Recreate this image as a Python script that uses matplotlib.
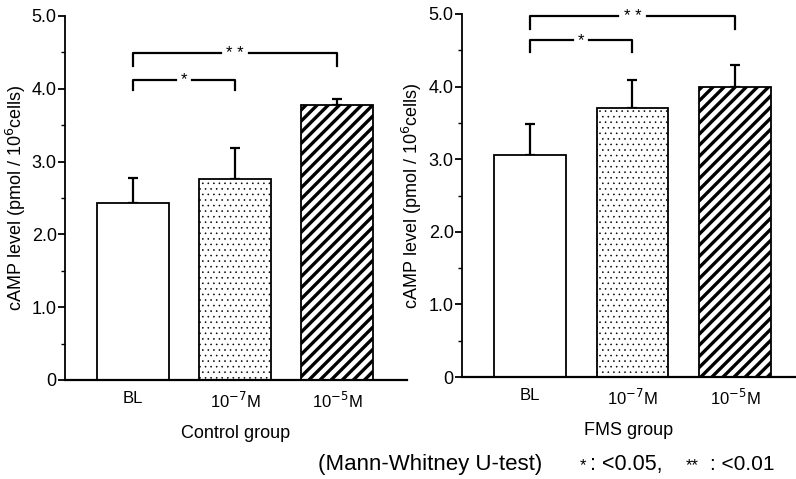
import matplotlib as mpl
import matplotlib.pyplot as plt
from matplotlib.ticker import MultipleLocator, FuncFormatter

plt.rcParams['font.family'] = ['Liberation Sans', 'DejaVu Sans']

# data
conditions = ['BL', '10$^{-7}$M', '10$^{-5}$M']
control_mean = [2.43, 2.76, 3.78]
control_err = [0.34, 0.43, 0.08]
fms_mean = [3.06, 3.71, 4.00]
fms_err = [0.42, 0.38, 0.30]
hatches = ['', '...', '///']
hatch_lw = [1.0, 0.4, 2.4]

# significance brackets: (left bar, right bar, line y, foot y, label)
control_brackets = [(0, 1, 4.12, 3.98, '*'), (0, 2, 4.49, 4.31, '* *')]
fms_brackets = [(0, 1, 4.64, 4.48, '*'), (0, 2, 4.97, 4.80, '* *')]


def draw_panel(ax, means, errs, brackets, group, xlim):
    x = range(len(means))
    for xi, m, h, hl in zip(x, means, hatches, hatch_lw):
        with mpl.rc_context({'hatch.linewidth': hl}):
            bars = ax.bar(xi, m, width=0.7, color='white', edgecolor='black',
                          linewidth=1.3, hatch=h, zorder=2)
        for b in bars:
            if hasattr(b, 'set_hatch_linewidth'):
                b.set_hatch_linewidth(hl)
    ax.errorbar(x, means, yerr=[[0] * len(errs), errs], fmt='none',
                ecolor='black', elinewidth=1.6, capsize=3.5, capthick=1.6, zorder=1)

    for a, b, y, foot, lab in brackets:
        mid = (a + b) / 2
        gap = 0.14 if len(lab) > 1 else 0.08
        ax.plot([a, a, mid - gap], [foot, y, y], color='black', lw=1.6, clip_on=False)
        ax.plot([mid + gap, b, b], [y, y, foot], color='black', lw=1.6, clip_on=False)
        ax.text(mid, y, lab, ha='center', va='center', fontsize=12)

    ax.set_xlim(*xlim)
    ax.set_ylim(0, 5.0)
    ax.yaxis.set_major_locator(MultipleLocator(1.0))
    ax.yaxis.set_minor_locator(MultipleLocator(0.5))
    ax.yaxis.set_major_formatter(FuncFormatter(lambda v, _: '0' if v == 0 else f'{v:.1f}'))
    ax.tick_params(axis='y', which='major', length=5, width=1.3, labelsize=13, pad=1)
    ax.tick_params(axis='y', which='minor', length=3, width=1.0)
    ax.set_xticks(list(x))
    ax.set_xticklabels(conditions, fontsize=12)
    ax.tick_params(axis='x', length=0, pad=8)
    for side in ['top', 'right']:
        ax.spines[side].set_visible(False)
    ax.spines['left'].set_linewidth(1.3)
    ax.spines['bottom'].set_linewidth(1.6)
    ax.set_ylabel('cAMP level (pmol / 10$^6$cells)', fontsize=13, labelpad=3)
    ax.set_xlabel(group, fontsize=13, labelpad=10)


fig = plt.figure(figsize=(7.96, 4.79), dpi=100)
ax1 = fig.add_axes([0.0817, 0.2067, 0.4296, 0.7599])
ax2 = fig.add_axes([0.5804, 0.2129, 0.4196, 0.7579])

draw_panel(ax1, control_mean, control_err, control_brackets, 'Control group', (-0.667, 2.686))
draw_panel(ax2, fms_mean, fms_err, fms_brackets, 'FMS group', (-0.663, 2.595))

base = 0.018
fig.text(0.400, base, '(Mann-Whitney U-test)', fontsize=16, ha='left', va='baseline')
fig.text(0.732, base, '*', fontsize=12, ha='center', va='baseline')
fig.text(0.741, base, ': <0.05,', fontsize=15.5, ha='left', va='baseline')
fig.text(0.870, base, '**', fontsize=12, ha='center', va='baseline')
fig.text(0.892, base, ': <0.01', fontsize=15, ha='left', va='baseline')

fig.savefig('out.png', dpi=100)
